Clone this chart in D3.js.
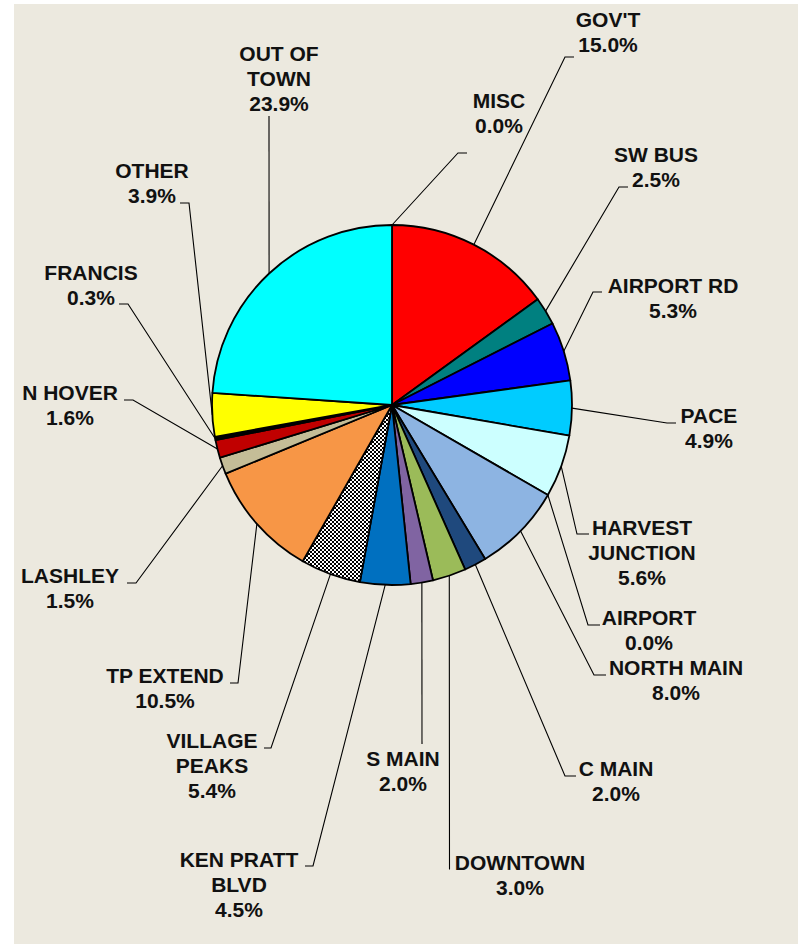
<!DOCTYPE html>
<html>
<head>
<meta charset="utf-8">
<script src="https://cdn.jsdelivr.net/npm/d3@7"></script>
<style>
  html, body { margin: 0; padding: 0; background: #ffffff; }
  svg { display: block; }
</style>
</head>
<body>
<script>
// ---- data ----
const categories = ["GOV'T", "SW BUS", "AIRPORT RD", "PACE", "HARVEST JUNCTION", "AIRPORT",
  "NORTH MAIN", "C MAIN", "DOWNTOWN", "S MAIN", "KEN PRATT BLVD", "VILLAGE PEAKS",
  "TP EXTEND", "LASHLEY", "N HOVER", "FRANCIS", "OTHER", "OUT OF TOWN", "MISC"];
const values = [15.0, 2.5, 5.3, 4.9, 5.6, 0.0, 8.0, 2.0, 3.0, 2.0, 4.5, 5.4, 10.5, 1.5, 1.6, 0.3, 3.9, 23.9, 0.0];
const labelLines = [["GOV'T"], ["SW BUS"], ["AIRPORT RD"], ["PACE"], ["HARVEST", "JUNCTION"], ["AIRPORT"],
  ["NORTH MAIN"], ["C MAIN"], ["DOWNTOWN"], ["S MAIN"], ["KEN PRATT", "BLVD"], ["VILLAGE", "PEAKS"],
  ["TP EXTEND"], ["LASHLEY"], ["N HOVER"], ["FRANCIS"], ["OTHER"], ["OUT OF", "TOWN"], ["MISC"]];
const colors = ["#FF0000", "#008080", "#0000FF", "#00CCFF", "#CCFFFF", "#FFFFFF",
  "#8DB4E2", "#1F497D", "#9BBB59", "#8064A2", "#0070C0", "url(#checker)",
  "#F79646", "#C4BD97", "#C00000", "#000000", "#FFFF00", "#00FFFF", "#FFFFFF"];

// ---- layout (label placement: text centre x, first baseline y, leader knee and end) ----
const labelLayout = [
  { tx: 608, ty: 27,  kx: 565, ky: 57,  ex: 574, ey: 57 },
  { tx: 656, ty: 162, kx: 619, ky: 187, ex: 628, ey: 187 },
  { tx: 673, ty: 293, kx: 593, ky: 292, ex: 602, ey: 292 },
  { tx: 709, ty: 423, kx: 667, ky: 423, ex: 676, ey: 423 },
  { tx: 642, ty: 535, kx: 577, ky: 534, ex: 589, ey: 534 },
  { tx: 649, ty: 625, kx: 588, ky: 625, ex: 600, ey: 625 },
  { tx: 676, ty: 675, kx: 594, ky: 675, ex: 606, ey: 675 },
  { tx: 616, ty: 776, kx: 565, ky: 776, ex: 576, ey: 776 },
  { tx: 520, ty: 870, kx: 449.5, ky: 869, ex: 450, ey: 869 },
  { tx: 403, ty: 766, kx: 422, ky: 744, ex: 422, ey: 744 },
  { tx: 239, ty: 867, kx: 313, ky: 866, ex: 305, ey: 866 },
  { tx: 212, ty: 748, kx: 271, ky: 748, ex: 264, ey: 748 },
  { tx: 165, ty: 683, kx: 238, ky: 683, ex: 230, ey: 683 },
  { tx: 70,  ty: 583, kx: 136, ky: 583, ex: 127, ey: 583 },
  { tx: 70,  ty: 400, kx: 133, ky: 400, ex: 124, ey: 400 },
  { tx: 91,  ty: 280, kx: 128, ky: 304, ex: 119, ey: 304 },
  { tx: 152, ty: 178, kx: 189, ky: 203, ex: 180, ey: 203 },
  { tx: 279, ty: 61,  kx: 269, ky: 116, ex: 269, ey: 116 },
  { tx: 499, ty: 108, kx: 458, ky: 153, ex: 467, ey: 153 }
];

const W = 798, H = 944;
const cx = 392, cy = 405, R = 180;
const fontSize = 21, lineH = 25;

const svg = d3.select("body").append("svg").attr("width", W).attr("height", H);

const defs = svg.append("defs");
const pat = defs.append("pattern").attr("id", "checker").attr("patternUnits", "userSpaceOnUse")
  .attr("width", 4).attr("height", 4);
pat.append("rect").attr("width", 4).attr("height", 4).attr("fill", "#ffffff");
pat.append("rect").attr("width", 2).attr("height", 2).attr("fill", "#000000");
pat.append("rect").attr("x", 2).attr("y", 2).attr("width", 2).attr("height", 2).attr("fill", "#000000");

svg.append("rect").attr("x", 14).attr("y", 4).attr("width", W - 14).attr("height", H - 4)
  .attr("fill", "#ECE9DF");

const data = categories.map((c, i) => ({ name: c, value: values[i], color: colors[i], lines: labelLines[i], lay: labelLayout[i] }));

const pie = d3.pie().sort(null).value(d => d.value);
const arcs = pie(data);
const arc = d3.arc().innerRadius(0).outerRadius(R);

const g = svg.append("g").attr("transform", `translate(${cx},${cy})`);
g.selectAll("path.slice").data(arcs.filter(a => a.data.value > 0)).join("path")
  .attr("class", "slice")
  .attr("d", arc)
  .attr("fill", d => d.data.color)
  .attr("stroke", "#000")
  .attr("stroke-width", 1.8)
  .attr("stroke-linejoin", "round");

// leader lines
const lineGen = d3.line();
svg.append("g").selectAll("path.leader").data(arcs).join("path")
  .attr("class", "leader")
  .attr("d", a => {
    const m = (a.startAngle + a.endAngle) / 2;
    const px = cx + R * Math.sin(m), py = cy - R * Math.cos(m);
    const L = a.data.lay;
    return lineGen([[px, py], [L.kx, L.ky], [L.ex, L.ey]]);
  })
  .attr("fill", "none")
  .attr("stroke", "#000")
  .attr("stroke-width", 1.1);

// labels
const fmt = d3.format(".1f");
const lg = svg.append("g")
  .attr("font-family", "'Liberation Sans', Arial, sans-serif")
  .attr("font-weight", "bold")
  .attr("font-size", fontSize)
  .attr("fill", "#111")
  .attr("text-anchor", "middle");
data.forEach(d => {
  const t = lg.append("text").attr("x", d.lay.tx).attr("y", d.lay.ty);
  const all = d.lines.concat([fmt(d.value) + "%"]);
  all.forEach((s, j) => {
    t.append("tspan").attr("x", d.lay.tx).attr("y", d.lay.ty + j * lineH).text(s);
  });
});
</script>
</body>
</html>
